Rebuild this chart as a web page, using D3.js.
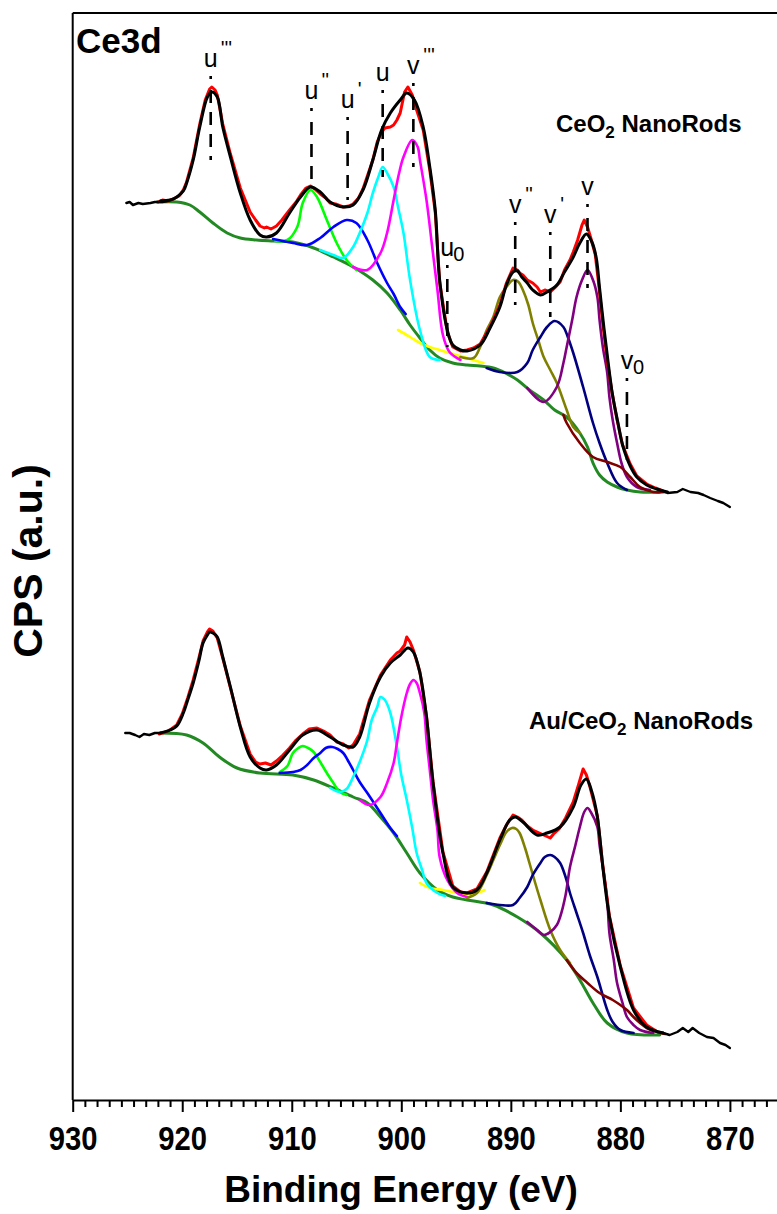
<!DOCTYPE html>
<html lang="en">
<head>
<meta charset="utf-8">
<title>Ce3d XPS</title>
<script src="https://cdn.jsdelivr.net/npm/d3@7/dist/d3.min.js"></script>
<style>
  body { margin: 0; background: #fff; }
  text { font-family: "Liberation Sans", Arial, sans-serif; }
</style>
</head>
<body>
<div id="chart"></div>
<script>
// ---- data: [binding energy (eV), CPS (a.u.)] ----
const xTicks = [930, 920, 910, 900, 890, 880, 870];

// CeO2 NanoRods (upper spectrum)
const upperTailLeft = [[925.1,897],[924.8,898],[924.5,895],[924.0,897],[923.6,896],[922.9,897],[922.5,898],[921.8,898],[921.4,899]];
const upperTailRight = [[876.4,610],[875.7,607],[874.8,608],[874.3,611],[873.6,608],[872.9,607],[872.4,605],[871.8,602],[871.1,599],[870.6,597],[870.0,593]];
const upperRaw = [[922.2,898],[921.8,900],[921.3,899],[920.8,901],[920.3,904],[919.9,910],[919.6,918],[919.0,942],[918.4,976],[917.9,1000],[917.5,1011],[917.3,1013],[917.0,1010],[916.8,1005],[916.3,976],[915.6,946],[914.7,912],[913.8,888],[913.3,880],[912.9,874],[912.5,872],[912.3,873],[911.9,871],[911.4,874],[910.9,880],[910.2,890],[909.6,898],[909.2,905],[908.7,912],[908.3,914],[907.9,911],[907.4,906],[906.9,902],[906.5,897],[906.0,896],[905.3,893],[904.8,894],[904.4,896],[903.9,902],[903.5,911],[902.6,940],[902.2,958],[901.8,968],[901.5,972],[901.0,973],[900.7,975],[900.4,980],[900.1,987],[899.7,1008],[899.4,1013],[899.0,1005],[898.6,990],[898.0,970],[897.4,930],[896.9,888],[896.5,818],[895.8,768],[895.3,753],[894.6,749],[894.0,750],[893.4,752],[892.8,756],[891.9,773],[891.0,795],[890.4,817],[889.8,832],[889.4,830],[889.2,827],[888.9,825],[888.5,820],[888.0,817],[887.6,813],[887.3,808],[886.9,810],[886.4,808],[886.0,812],[885.5,818],[885.1,830],[884.6,840],[884.3,848],[883.9,860],[883.5,875],[883.3,880],[883.0,873],[882.7,862],[882.3,846],[882.0,818],[881.6,776],[881.2,740],[880.8,710],[880.3,680],[879.8,655],[879.1,636],[878.5,624],[877.6,616],[876.8,612],[876.1,609]];
const upperEnvelope = [[922.0,899],[921.1,900],[920.5,903],[919.9,909],[919.6,917],[919.0,940],[918.4,973],[917.7,1003],[917.3,1008],[916.8,1003],[916.3,973],[915.6,943],[914.7,907],[913.8,880],[912.9,865],[912.3,863],[911.4,867],[910.2,887],[909.2,903],[908.3,913],[907.4,908],[906.5,898],[905.3,893],[904.4,895],[903.5,910],[902.6,940],[901.8,970],[901.0,987],[900.1,1000],[899.5,1007],[898.8,1000],[898.0,973],[897.4,933],[896.9,890],[896.5,820],[895.8,770],[895.3,755],[894.6,750],[894.0,749],[892.8,755],[891.9,772],[891.0,793],[890.4,815],[889.8,828],[889.4,829],[889.0,823],[888.5,817],[888.0,810],[887.3,805],[886.7,808],[885.8,815],[885.1,828],[884.3,843],[883.7,857],[883.1,866],[882.6,858],[882.2,842],[881.9,812],[881.5,772],[881.1,736],[880.7,704],[880.2,676],[879.8,655],[879.1,634],[878.5,623],[877.6,615],[876.4,610],[875.7,608]];
const upperBackground = [[922.3,898],[920.5,898],[919.3,895],[918.4,888],[917.2,877],[915.9,867],[914.7,862],[913.2,860],[911.7,859],[909.9,858],[908.0,852],[906.2,843],[904.4,833],[902.6,820],[901.3,807],[900.1,790],[899.2,775],[898.3,762],[897.4,750],[896.5,742],[895.3,737],[894.0,735],[892.8,734],[891.6,732],[890.5,727],[889.4,720],[888.3,710],[887.0,700],[886.0,690],[884.9,683],[883.7,667],[883.0,653],[882.5,637],[881.9,625],[881.2,618],[880.3,613],[879.4,610],[878.2,608],[876.4,608]];
const upperU2 = [[911.5,859],[910.4,860],[909.5,873],[909.0,897],[908.3,910],[907.7,903],[906.8,880],[905.9,857],[905.0,840],[904.1,830]];
const upperU1 = [[911.7,861],[909.9,857],[908.6,855],[907.4,862],[906.2,873],[905.0,880],[904.1,877],[903.1,860],[902.2,837],[901.3,817],[900.7,806],[900.1,793],[899.6,786]];
const upperU = [[907.4,850],[906.2,845],[905.3,842],[904.4,853],[903.8,867],[903.1,887],[902.6,907],[902.1,923],[901.7,933],[901.3,927],[900.7,913],[900.3,893],[899.8,867],[899.2,820],[898.3,770],[897.4,743],[896.5,740]];
const upperV3 = [[904.4,833],[903.1,830],[901.9,847],[901.3,867],[900.7,900],[900.2,927],[899.8,943],[899.0,960],[898.5,953],[898.3,940],[897.7,900],[897.2,855],[896.7,810],[896.2,765],[895.6,748],[894.6,740]];
const upperU0 = [[900.3,770],[899.2,763],[898.3,757],[897.4,753],[896.5,750],[895.6,747],[894.6,744],[893.4,740],[892.5,737]];
const upperV2 = [[894.6,743],[893.4,742],[892.8,753],[892.2,770],[891.6,783],[891.0,803],[890.4,813],[889.8,820],[889.3,818],[888.9,810],[888.4,795],[888.0,777],[887.5,760],[887.0,743],[886.4,730],[885.8,717],[884.9,690],[884.3,673],[883.7,667]];
const upperV1 = [[892.2,732],[891.0,728],[889.4,728],[888.5,737],[888.0,750],[887.3,763],[886.7,773],[886.0,779],[885.2,773],[884.8,763],[884.3,747],[883.4,713],[882.5,677],[881.9,657],[881.2,637],[880.3,617],[879.4,610]];
const upperV = [[888.5,712],[887.0,698],[885.8,713],[885.2,737],[884.9,753],[884.4,780],[884.0,803],[883.5,820],[883.0,830],[882.5,820],[882.1,803],[881.9,780],[881.6,753],[881.2,727],[881.0,703],[880.7,680],[880.3,657],[879.9,637],[879.4,623],[878.5,613],[877.3,610]];
const upperV0 = [[885.2,685],[884.9,677],[883.7,657],[882.5,643],[881.2,638],[880.0,633],[879.1,623],[878.2,613],[877.0,608],[875.9,608]];

// Au/CeO2 NanoRods (lower spectrum)
const lowerTailLeft = [[925.2,367],[924.8,367],[924.3,365],[923.9,363],[923.5,366],[923.0,365],[922.5,367],[922.0,367]];
const lowerTailRight = [[876.1,67],[875.5,65],[874.8,68],[874.3,72],[873.8,68],[873.4,72],[872.8,67],[872.1,63],[871.5,62],[870.9,57],[870.4,55],[870.0,52]];
const lowerRaw = [[922.1,366],[921.5,368],[921.0,371],[920.5,375],[920.0,386],[919.5,402],[919.0,420],[918.5,441],[918.1,459],[917.7,468],[917.5,471],[917.2,469],[916.8,462],[916.3,442],[915.6,412],[914.7,374],[913.8,346],[913.3,338],[912.9,336],[912.4,337],[911.9,335],[911.4,339],[910.8,345],[910.2,352],[909.6,360],[909.0,366],[908.4,371],[907.7,372],[907.1,369],[906.5,365],[905.9,358],[905.3,356],[904.8,352],[904.4,355],[903.8,366],[902.9,400],[901.9,425],[901.0,440],[900.4,447],[900.1,449],[899.7,455],[899.5,463],[899.2,458],[898.9,450],[898.3,428],[897.7,384],[897.1,318],[896.2,248],[895.3,214],[894.6,208],[894.0,207],[893.1,211],[892.2,228],[891.0,262],[890.4,275],[889.8,285],[889.4,283],[889.0,280],[888.5,274],[888.0,270],[887.6,268],[887.0,265],[886.4,262],[886.1,266],[885.6,271],[885.0,282],[884.3,298],[883.8,316],[883.4,331],[883.1,325],[882.8,314],[882.1,284],[881.6,234],[881.0,184],[880.0,134],[878.8,92],[877.6,75],[876.6,68],[876.1,67]];
const lowerEnvelope = [[922.0,367],[921.1,370],[920.5,374],[919.9,387],[919.5,400],[919.0,417],[918.5,438],[918.1,457],[917.7,465],[917.5,468],[917.2,467],[916.8,463],[916.3,443],[915.6,413],[914.7,373],[913.8,343],[912.9,332],[912.3,330],[911.4,335],[910.2,350],[909.0,365],[907.7,370],[906.5,363],[905.3,355],[904.4,353],[903.8,363],[902.9,397],[901.9,423],[901.0,437],[900.1,445],[899.4,452],[898.9,448],[898.3,427],[897.7,383],[897.1,317],[896.2,247],[895.3,213],[894.0,207],[893.1,210],[892.2,227],[891.0,260],[890.1,280],[889.6,283],[888.9,278],[887.6,265],[886.7,267],[885.5,273],[884.3,293],[883.6,315],[883.1,321],[882.6,308],[882.1,283],[881.6,233],[881.0,183],[880.0,133],[878.8,90],[877.6,73],[876.1,67]];
const lowerBackground = [[922.0,367],[919.6,365],[918.1,357],[916.6,343],[915.0,332],[912.9,327],[909.9,325],[908.0,320],[906.2,312],[904.4,303],[903.1,297],[901.9,283],[900.7,267],[899.5,247],[898.3,227],[896.7,210],[895.3,203],[894.0,200],[891.6,195],[889.4,183],[887.3,167],[884.9,140],[883.7,120],[882.5,97],[881.2,77],[879.4,67],[876.4,65]];
const lowerU2 = [[911.1,328],[910.4,334],[909.9,347],[909.4,352],[909.0,354],[908.5,352],[908.0,348],[907.4,338],[906.8,327],[906.2,317],[905.6,308],[905.0,305]];
const lowerU1 = [[911.1,327],[909.9,328],[909.2,330],[908.6,335],[908.0,342],[907.4,347],[906.9,352],[906.3,353],[905.8,351],[905.3,347],[904.9,340],[904.4,330],[903.8,318],[903.1,307],[901.9,287],[901.0,272],[900.4,264]];
const lowerU = [[906.5,312],[905.6,308],[905.0,311],[904.4,323],[903.8,338],[903.1,360],[902.7,380],[902.2,393],[901.9,403],[901.5,400],[901.0,387],[900.4,353],[900.0,325],[899.5,300],[899.0,272],[898.6,247],[898.1,230],[897.7,217],[896.7,207],[896.0,204]];
const lowerV3 = [[903.8,300],[902.9,295],[901.9,303],[901.3,317],[900.7,337],[900.4,357],[900.0,383],[899.5,407],[899.2,416],[898.9,420],[898.6,417],[898.3,407],[897.9,387],[897.7,360],[897.4,330],[897.1,300],[896.7,270],[896.5,243],[895.8,220],[894.9,207],[894.0,203]];
const lowerU0 = [[898.3,217],[897.4,212],[896.2,210],[895.3,208],[894.0,206],[893.1,207],[892.4,210]];
const lowerV2 = [[894.0,202],[893.1,207],[892.2,225],[891.6,240],[891.0,255],[890.4,268],[889.9,272],[889.5,271],[889.2,267],[888.7,252],[888.3,237],[887.8,218],[887.3,200],[886.4,170],[885.5,150],[884.6,137]];
const lowerV1 = [[892.2,197],[891.0,195],[889.8,195],[889.2,202],[888.5,213],[888.0,225],[887.3,237],[886.9,243],[886.4,245],[886.0,243],[885.5,237],[885.0,223],[884.6,207],[884.0,187],[883.4,167],[882.8,145],[882.1,123],[881.2,90],[880.7,78],[880.0,70],[878.8,67]];
const lowerV = [[888.5,178],[887.6,170],[887.0,165],[886.4,168],[885.8,175],[885.5,183],[885.0,205],[884.6,233],[884.1,255],[883.7,273],[883.3,288],[883.0,292],[882.7,288],[882.1,273],[881.9,255],[881.6,233],[881.2,200],[881.0,167],[880.6,140],[880.3,117],[879.8,97],[879.4,83],[878.8,75],[878.2,70],[877.0,67]];
const lowerV0 = [[884.9,140],[884.0,127],[883.0,117],[881.9,107],[880.7,100],[880.0,95],[879.4,90],[878.8,83],[878.2,77],[877.6,72],[876.6,68],[875.9,66]];

// peak assignments marked on the upper spectrum (dashed line from top to bottom)
const peakNames = ["u", "u", "u", "u", "v", "u", "v", "v", "v", "v"];
const peakMarks = ["'''", "''", "'", "", "'''", "0", "''", "'", "", "0"];
const peakEnergies = [917.4, 908.2, 904.9, 901.7, 898.9, 895.8, 889.6, 886.4, 883.0, 879.4];
const peakTops = [1024, 992, 983, 1010, 1017, 835, 878, 868, 896, 722];
const peakBottoms = [940, 913, 900, 923, 933, 753, 795, 783, 812, 640];

// ---- drawing ----
const W = 777, H = 1214;
const margin = {top: 13, left: 72.7, bottom: 1100};

const svg = d3.select("#chart").append("svg")
    .attr("width", W).attr("height", H)
    .style("background", "#fff");

const x = d3.scaleLinear().domain([930, 865.7]).range([margin.left, W]);
const y = d3.scaleLinear().domain([0, 1087]).range([margin.bottom, margin.top]);

const smooth = d3.line().x(d => x(d[0])).y(d => y(d[1])).curve(d3.curveCatmullRom.alpha(0.5));
const jagged = d3.line().x(d => x(d[0])).y(d => y(d[1]));

function spectrum(set) {
    const g = svg.append("g").attr("fill", "none").attr("stroke-linejoin", "round").attr("stroke-linecap", "round");
    g.append("path").attr("d", smooth(set.bg)).attr("stroke", "#238a23").attr("stroke-width", 3);
    set.parts.forEach(p => {
        g.append("path").attr("d", smooth(p[0])).attr("stroke", p[1]).attr("stroke-width", 2.6);
    });
    g.append("path").attr("d", jagged(set.raw)).attr("stroke", "#ff0000").attr("stroke-width", 3);
    g.append("path").attr("d", smooth(set.env)).attr("stroke", "#000").attr("stroke-width", 3);
    [set.tailL, set.tailR].forEach(t => {
        g.append("path").attr("d", jagged(t)).attr("stroke", "#000").attr("stroke-width", 2.4);
    });
}

spectrum({
    bg: upperBackground, raw: upperRaw, env: upperEnvelope, tailL: upperTailLeft, tailR: upperTailRight,
    parts: [[upperU0, "#ffff00"], [upperU2, "#00ff00"], [upperU1, "#0000ff"], [upperU, "#00ffff"], [upperV3, "#ff00ff"],
            [upperV2, "#808000"], [upperV1, "#000080"], [upperV, "#800080"], [upperV0, "#800000"]]
});
spectrum({
    bg: lowerBackground, raw: lowerRaw, env: lowerEnvelope, tailL: lowerTailLeft, tailR: lowerTailRight,
    parts: [[lowerU0, "#ffff00"], [lowerU2, "#00ff00"], [lowerU1, "#0000ff"], [lowerU, "#00ffff"], [lowerV3, "#ff00ff"],
            [lowerV2, "#808000"], [lowerV1, "#000080"], [lowerV, "#800080"], [lowerV0, "#800000"]]
});

// dashed peak markers + labels
peakEnergies.forEach((e, i) => {
    const px = x(e), yt = y(peakTops[i]), yb = y(peakBottoms[i]);
    svg.append("line")
        .attr("x1", px).attr("x2", px).attr("y1", yt).attr("y2", yb)
        .attr("stroke", "#000").attr("stroke-width", 2.6)
        .attr("stroke-dasharray", "3,11,13,9,13,9,13,9,13,9,13,9");
    const base = yt - 9;
    svg.append("text").attr("x", px).attr("y", base)
        .attr("text-anchor", "middle").style("font-size", "25px")
        .text(peakNames[i]);
    if (peakMarks[i] === "0") {
        svg.append("text").attr("x", px + 6).attr("y", base + 5)
            .style("font-size", "20px").text("0");
    } else if (peakMarks[i] !== "") {
        svg.append("text").attr("x", px + 10).attr("y", base - 12)
            .style("font-size", "20px").text(peakMarks[i]);
    }
});

// frame
svg.append("line").attr("x1", margin.left).attr("x2", W).attr("y1", margin.top).attr("y2", margin.top)
    .attr("stroke", "#000").attr("stroke-width", 2);
svg.append("line").attr("x1", margin.left).attr("x2", margin.left).attr("y1", margin.top).attr("y2", margin.bottom)
    .attr("stroke", "#000").attr("stroke-width", 2);

// x axis
const minorTicks = d3.range(0, 64).map(i => 930 - i * 10 / 9).filter(v => v > 865.7 && Math.abs(Math.round((930 - v) / (10 / 9)) % 9) !== 0);
const minorAxis = svg.append("g").attr("transform", `translate(0,${margin.bottom})`)
    .call(d3.axisBottom(x).tickValues(minorTicks).tickSize(7).tickSizeOuter(0).tickFormat(""));
minorAxis.select(".domain").remove();
minorAxis.selectAll("line").attr("stroke-width", 2);

const xAxis = svg.append("g").attr("transform", `translate(0,${margin.bottom})`)
    .call(d3.axisBottom(x).tickValues(xTicks).tickSize(12).tickSizeOuter(0).tickFormat(d3.format("d")));
xAxis.select(".domain").attr("stroke-width", 2);
xAxis.selectAll(".tick line").attr("stroke-width", 2);
xAxis.selectAll(".tick text")
    .attr("y", 50).attr("dy", null)
    .attr("transform", "scale(0.86,1)")
    .style("font-size", "34px").style("font-weight", "bold").attr("fill", "#000");

svg.append("text")
    .attr("x", 401).attr("y", 1202)
    .attr("text-anchor", "middle")
    .style("font-size", "37px").style("font-weight", "bold")
    .text("Binding Energy (eV)");

svg.append("text")
    .attr("transform", "translate(42,561) rotate(-90)")
    .attr("text-anchor", "middle")
    .style("font-size", "41px").style("font-weight", "bold")
    .text("CPS (a.u.)");

svg.append("text").attr("x", 76).attr("y", 53)
    .style("font-size", "35px").style("font-weight", "bold").text("Ce3d");

function sampleLabel(px, py, pre) {
    const t = svg.append("text").attr("x", px).attr("y", py)
        .style("font-size", "24px").style("font-weight", "bold");
    t.append("tspan").text(pre + "CeO");
    t.append("tspan").attr("dy", 6).style("font-size", "17px").text("2");
    t.append("tspan").attr("dy", -6).text(" NanoRods");
}
sampleLabel(556, 132, "");
sampleLabel(529, 729, "Au/");
</script>
</body>
</html>
